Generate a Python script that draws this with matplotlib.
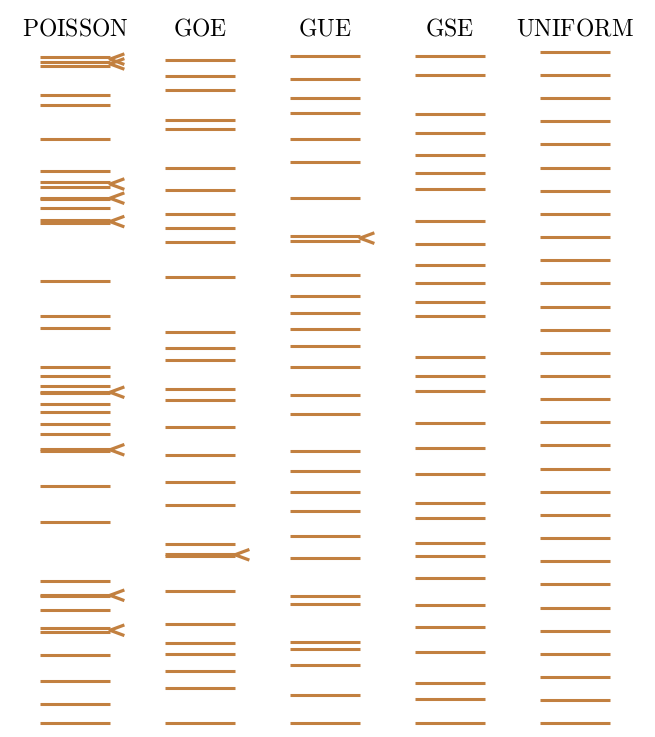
import numpy as np
import matplotlib
matplotlib.use('Agg')
import matplotlib.pyplot as plt

# Niveles de energia (espaciado medio ~1)
poisson = [0.0, 0.83, 1.83, 2.94, 3.93, 4.11, 4.88, 5.50, 5.56, 6.13,
           8.71, 10.24, 11.78, 11.85, 12.48, 12.94, 13.46, 13.78, 14.27, 14.33,
           14.58, 15.02, 15.39, 17.08, 17.58, 19.11, 21.61, 21.73, 22.25, 22.65,
           22.71, 23.18, 23.40, 23.86, 25.25, 26.71, 27.14, 28.38, 28.58, 28.79]
goe = [0.0, 1.52, 2.27, 3.01, 3.48, 4.30, 5.70, 7.23, 7.33, 7.75,
       9.42, 10.42, 11.60, 12.81, 13.97, 14.44, 15.71, 16.21, 16.89, 19.29,
       20.78, 21.38, 22.00, 23.04, 23.99, 25.68, 26.07, 27.34, 27.95, 28.67]
gue = [0.0, 1.24, 2.53, 3.22, 3.52, 5.14, 5.49, 7.15, 8.08, 9.17,
       9.99, 10.89, 11.76, 13.37, 14.18, 15.40, 16.31, 17.05, 17.71, 18.46,
       19.38, 20.85, 21.06, 22.69, 24.25, 25.23, 26.38, 27.01, 27.82, 28.81]
gse = [0.0, 1.04, 1.74, 3.07, 4.15, 5.12, 6.29, 7.23, 7.79, 8.88,
       9.50, 10.76, 11.88, 12.97, 14.37, 15.02, 15.84, 17.58, 18.20, 19.03,
       19.81, 20.70, 21.71, 23.09, 23.76, 24.54, 25.51, 26.33, 28.00, 28.84]
uniform = list(range(30))

nombres = ['POISSON', 'GOE', 'GUE', 'GSE', 'UNIFORM']
espectros = [poisson, goe, gue, gse, uniform]

plt.rcParams['mathtext.fontset'] = 'cm'
color = '#c28040'
umbral = 0.23   # espaciado pequeño -> se marca con "<"

fig = plt.figure(figsize=(6.55, 7.37), dpi=100)
ax = fig.add_axes([0, 0, 1, 1])

mitad = 0.28
for i, (nombre, niveles) in enumerate(zip(nombres, espectros)):
    niveles = np.array(niveles)
    ax.hlines(niveles, i - mitad, i + mitad, color=color, lw=2.2)
    # marcas en los pares de niveles muy cercanos
    dif = np.diff(niveles)
    for k in np.where(dif < umbral)[0]:
        y = (niveles[k] + niveles[k + 1]) / 2
        x0 = i + mitad
        ax.plot([x0 + 0.115, x0, x0 + 0.115], [y + 0.23, y, y - 0.23],
                color=color, lw=2.3, solid_capstyle='butt')
    ax.text(i, 30.0, r'$\mathrm{' + nombre + '}$', ha='center', va='center',
            fontsize=17)

ax.set_xlim(-0.6, 4.64)
ax.set_ylim(-0.59, 31.24)
ax.axis('off')

plt.savefig('out.png', dpi=100)
